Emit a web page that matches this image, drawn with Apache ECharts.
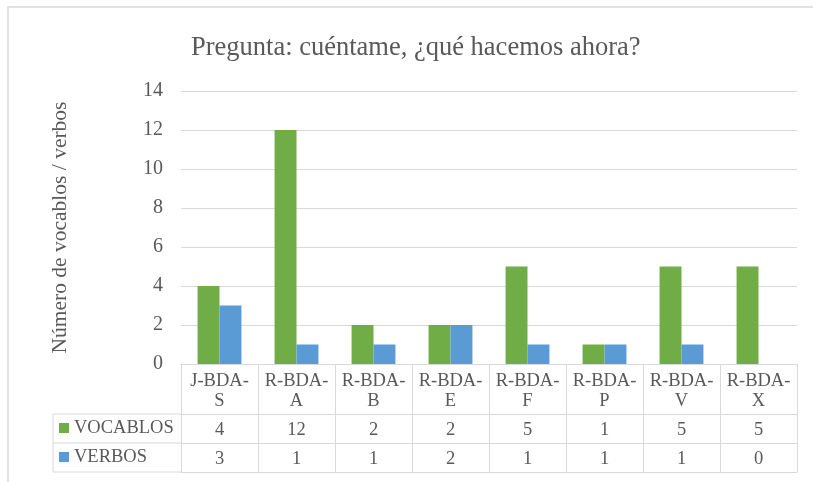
<!DOCTYPE html>
<html>
<head>
<meta charset="utf-8">
<script src="https://cdn.jsdelivr.net/npm/echarts@6/dist/echarts.min.js"></script>
<style>
  html, body { margin: 0; padding: 0; background: #fff; }
  #main { width: 813px; height: 482px; }
</style>
</head>
<body>
<div id="main"></div>
<script>
// datos del gráfico
var categorias = ['J-BDA-S', 'R-BDA-A', 'R-BDA-B', 'R-BDA-E', 'R-BDA-F', 'R-BDA-P', 'R-BDA-V', 'R-BDA-X'];
var vocablos = [4, 12, 2, 2, 5, 1, 5, 5];
var verbos = [3, 1, 1, 2, 1, 1, 1, 0];
var yTicks = [0, 2, 4, 6, 8, 10, 12, 14];

var FONT = '"Liberation Serif", "Times New Roman", serif';
var GRIS = '#d9d9d9';
var TEXTO = '#595959';

// geometría de la tabla bajo el eje
var gridLeft = 181, gridRight = 16, gridTop = 91, gridBottom = 118;
var ejeY = 482 - gridBottom;   // línea del cero
var filaCat = 50, filaDato = 29;
var tablaIzq = 53;

var chart = echarts.init(document.getElementById('main'), null, { renderer: 'canvas' });

// eje de categorías con las celdas de la tabla (las marcas hacen de bordes verticales)
function ejeTabla(offset, largo, formatter, margen) {
    return {
        type: 'category',
        data: categorias,
        position: 'bottom',
        offset: offset,
        axisLine: { show: true, lineStyle: { color: GRIS, width: 1 } },
        axisTick: { show: largo > 0, length: largo, lineStyle: { color: GRIS, width: 1 } },
        axisLabel: {
            show: !!formatter,
            formatter: formatter,
            margin: margen,
            interval: 0,
            fontFamily: FONT,
            fontSize: 18.5,
            lineHeight: 20,
            color: TEXTO
        },
        splitLine: { show: false }
    };
}

var option = {
    backgroundColor: '#fff',
    animation: false,
    title: {
        text: 'Pregunta: cuéntame, ¿qué hacemos ahora?',
        left: 186,
        top: 30,
        textStyle: { fontFamily: FONT, fontSize: 26.5, fontWeight: 'normal', color: TEXTO }
    },
    legend: {
        orient: 'vertical',
        left: 59,
        top: ejeY + filaCat + 4,
        padding: 0,
        itemWidth: 10,
        itemHeight: 10,
        itemGap: 9,
        icon: 'rect',
        data: ['VOCABLOS', 'VERBOS'],
        textStyle: { fontFamily: FONT, fontSize: 18.5, lineHeight: 20, color: TEXTO }
    },
    grid: { left: gridLeft, right: gridRight, top: gridTop, bottom: gridBottom, containLabel: false },
    xAxis: [
        ejeTabla(0, filaCat, function (v) {
            return v.replace(/^(\w-\w+-)(\w)$/, '$1\n$2');
        }, 7),
        ejeTabla(filaCat, filaDato, function (v, i) { return String(vocablos[i]); }, 6),
        ejeTabla(filaCat + filaDato, filaDato, function (v, i) { return String(verbos[i]); }, 6),
        ejeTabla(filaCat + 2 * filaDato, 0, null, 0)
    ],
    yAxis: {
        type: 'value',
        min: yTicks[0],
        max: yTicks[yTicks.length - 1],
        interval: yTicks[1] - yTicks[0],
        name: 'Número de vocablos / verbos',
        nameLocation: 'middle',
        nameGap: 110,
        nameTextStyle: { fontFamily: FONT, fontSize: 21.5, color: TEXTO },
        axisLine: { show: false },
        axisTick: { show: false },
        axisLabel: { fontFamily: FONT, fontSize: 20, color: TEXTO, margin: 18 },
        splitLine: { lineStyle: { color: GRIS, width: 1 } }
    },
    series: [{
        name: 'VOCABLOS',
        type: 'bar',
        data: vocablos,
        barGap: '0%',
        barCategoryGap: '43%',
        itemStyle: { color: '#70ad47' }
    }, {
        name: 'VERBOS',
        type: 'bar',
        data: verbos,
        barGap: '0%',
        barCategoryGap: '43%',
        itemStyle: { color: '#5b9bd5' }
    }],
    graphic: [
        // marco exterior del gráfico
        { type: 'rect', shape: { x: 8, y: 7, width: 900, height: 600 }, style: { fill: null, stroke: GRIS, lineWidth: 1.5 }, silent: true },
        // bordes de la columna de leyenda
        { type: 'line', shape: { x1: tablaIzq, y1: ejeY + filaCat, x2: gridLeft, y2: ejeY + filaCat }, style: { stroke: GRIS, lineWidth: 1 } },
        { type: 'line', shape: { x1: tablaIzq, y1: ejeY + filaCat + filaDato, x2: gridLeft, y2: ejeY + filaCat + filaDato }, style: { stroke: GRIS, lineWidth: 1 } },
        { type: 'line', shape: { x1: tablaIzq, y1: ejeY + filaCat + 2 * filaDato, x2: gridLeft, y2: ejeY + filaCat + 2 * filaDato }, style: { stroke: GRIS, lineWidth: 1 } },
        { type: 'line', shape: { x1: tablaIzq, y1: ejeY + filaCat, x2: tablaIzq, y2: ejeY + filaCat + 2 * filaDato }, style: { stroke: GRIS, lineWidth: 1 } }
    ]
};

chart.setOption(option);
</script>
</body>
</html>
